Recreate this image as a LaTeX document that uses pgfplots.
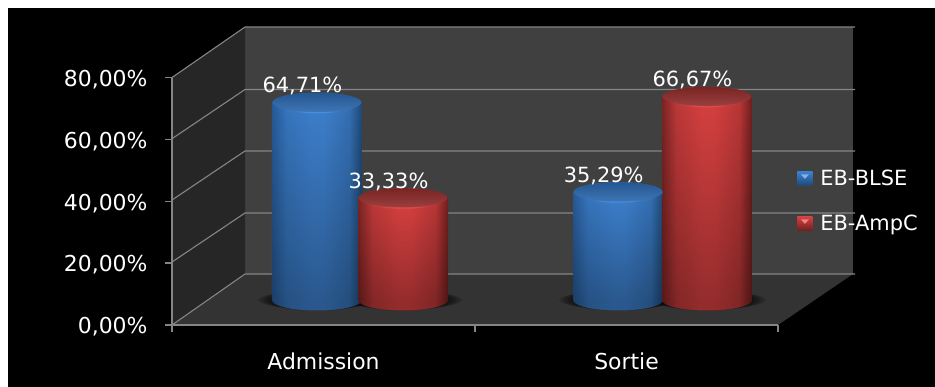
\documentclass[border=0pt]{standalone}
\usepackage{fontspec}
\setmainfont{DejaVu Sans}
\usepackage{pgfplots}
\pgfplotsset{compat=1.18}
\usetikzlibrary{fadings}

% Colours of the chart frame
\definecolor{wallback}{HTML}{404040}
\definecolor{wallside}{HTML}{262626}
\definecolor{floorcol}{HTML}{333333}
\definecolor{gridcol}{HTML}{858585}
% Colours of the cylinders
\definecolor{blueedgeL}{HTML}{275A96}
\definecolor{bluemid}{HTML}{3D7FCC}
\definecolor{blueedgeR}{HTML}{1E4874}
\definecolor{bluecap}{HTML}{2A66AC}
\definecolor{bluerim}{HTML}{4A92E4}
\definecolor{rededgeL}{HTML}{7C2424}
\definecolor{redmid}{HTML}{D64040}
\definecolor{rededgeR}{HTML}{6E1E1E}
\definecolor{redcap}{HTML}{8E2A2A}
\definecolor{redrim}{HTML}{E25050}

% Side surface of a cylinder: dark rims, a broad lit centre
\pgfdeclarehorizontalshading{cylblue}{100bp}{
  color(0bp)=(blueedgeL); color(25bp)=(blueedgeL);
  color(33bp)=(bluemid!72!blueedgeL); color(47bp)=(bluemid); color(54bp)=(bluemid);
  color(68bp)=(bluemid!72!blueedgeR); color(75bp)=(blueedgeR); color(100bp)=(blueedgeR)}
\pgfdeclarehorizontalshading{cylred}{100bp}{
  color(0bp)=(rededgeL); color(25bp)=(rededgeL);
  color(33bp)=(redmid!72!rededgeL); color(47bp)=(redmid); color(54bp)=(redmid);
  color(68bp)=(redmid!72!rededgeR); color(75bp)=(rededgeR); color(100bp)=(rededgeR)}

% Cylinder end caps and floor shadow, drawn as plot marks at the data points
\pgfdeclareplotmark{capblue}{%
  \shade[draw=none,shading=cylblue] (0,0) ellipse [x radius=45bp,y radius=10.5bp];
  \shade[draw=none,top color=bluecap!85!black,bottom color=bluecap!90!white] (0,1bp) ellipse [x radius=44.5bp,y radius=9.5bp];
  \fill[draw=none,bluerim,opacity=.8] (-22bp,-8.2bp) .. controls (-8bp,-10.6bp) and (8bp,-10.6bp) .. (22bp,-8.2bp) .. controls (8bp,-9.2bp) and (-8bp,-9.2bp) .. cycle;
}
\pgfdeclareplotmark{capred}{%
  \shade[draw=none,shading=cylred] (0,0) ellipse [x radius=45bp,y radius=10.5bp];
  \shade[draw=none,top color=redcap!85!black,bottom color=redcap!90!white] (0,1bp) ellipse [x radius=44.5bp,y radius=9.5bp];
  \fill[draw=none,redrim,opacity=.8] (-22bp,-8.2bp) .. controls (-8bp,-10.6bp) and (8bp,-10.6bp) .. (22bp,-8.2bp) .. controls (8bp,-9.2bp) and (-8bp,-9.2bp) .. cycle;
}
\pgfdeclareplotmark{baseblue}{%
  \shade[draw=none,shading=cylblue]
    (-45bp,0) arc [start angle=180,end angle=360,x radius=45bp,y radius=10.5bp] -- cycle;
  \fill[draw=none,black,opacity=.3]
    (-45bp,0) arc [start angle=180,end angle=360,x radius=45bp,y radius=10.5bp] -- cycle;
}
\pgfdeclareplotmark{basered}{%
  \shade[draw=none,shading=cylred]
    (-45bp,0) arc [start angle=180,end angle=360,x radius=45bp,y radius=10.5bp] -- cycle;
  \fill[draw=none,black,opacity=.3]
    (-45bp,0) arc [start angle=180,end angle=360,x radius=45bp,y radius=10.5bp] -- cycle;
}
\pgfdeclareplotmark{floorshadow}{%
  \foreach \r/\h in {59/9,56/9.5,53/10,50/10.5,47/11}{%
    \fill[draw=none,black,opacity=.14] (0,0bp) ellipse [x radius=\r bp,y radius=\h bp];
  }%
}

\pgfplotsset{
  fullframe/.style={
    at={(0,0)},anchor=south west,scale only axis,
    width=935bp,height=387bp,
    xmin=0,xmax=935,ymin=0,ymax=387,y dir=reverse,
    axis lines=none,clip=true,
  },
  wall/.style={draw=none,fill=#1,forget plot},
  gridline/.style={draw=gridcol,line width=1.1bp,forget plot},
  pct/.style={
    /pgf/number format/assume math mode=true,
    /pgf/number format/use comma,
    /pgf/number format/fixed,
    /pgf/number format/fixed zerofill,
    /pgf/number format/precision=2,
  },
  valuelabel/.style={
    point meta=y,
    nodes near coords={\pgfmathprintnumber{\pgfplotspointmeta}\%},
    every node near coord/.style={anchor=center,xshift=-14.5bp,yshift=17bp,text=white,font=\fontsize{21}{25}\selectfont},
  },
  cylinderplane/.style={
    at={(210bp,87bp)},anchor=south west,scale only axis,
    width=606bp,height=243.2bp,
    xmin=0,xmax=2,ymin=0,ymax=80,
    hide axis,clip=false,
  },
}

% One cylinder at category position #2 with value #3, in colour family #1
\newcommand{\cylbody}[3]{%
  \addplot[ybar,bar width=90bp,draw=none,shade,shading=cyl#1,forget plot]
    coordinates {(#2,#3)};
  \addplot[ybar,bar width=90bp,draw=none,fill=black,fill opacity=.3,path fading=north,forget plot]
    coordinates {(#2,#3)};
  \addplot[only marks,mark=base#1,forget plot] coordinates {(#2,0)};
  \addplot[only marks,mark=cap#1,forget plot,valuelabel] coordinates {(#2,#3)};
}

\begin{document}
\begin{tikzpicture}
% Page, black panel, walls, floor and the receding grid lines (in pixel units)
\begin{axis}[fullframe]
  \addplot[wall=white] coordinates {(0,0) (935,0) (935,387) (0,387)} -- cycle;
  \addplot[wall=black] coordinates {(8,8) (935,8) (935,387) (8,387)} -- cycle;
  \addplot[wall=wallback] coordinates {(245,27) (853,27) (853,274) (245,274)} -- cycle;
  \addplot[wall=wallside] coordinates {(172,77.5) (245,27) (245,274) (172,325)} -- cycle;
  \addplot[wall=floorcol] coordinates {(172,325) (245,274) (853,274) (778,325)} -- cycle;
  \addplot[gridline] coordinates {(172,77.5) (245,27) (855,27)};
  \addplot[gridline] coordinates {(172,138.7) (245,89.5) (855,89.5)};
  \addplot[gridline] coordinates {(172,200) (245,151) (855,151)};
  \addplot[gridline] coordinates {(172,262) (245,213) (855,213)};
  \addplot[gridline] coordinates {(172,325) (245,274) (855,274)};
\end{axis}

% Value axis on the front plane of the box
\begin{axis}[
  at={(172bp,62bp)},anchor=south west,scale only axis,
  width=606bp,height=247.5bp,
  xmin=0,xmax=2,ymin=0,ymax=80,
  axis x line=bottom,axis y line=left,
  axis line style={-,draw=gridcol,line width=1.2bp},
  tick style={draw=gridcol,line width=1.4bp},
  tick align=outside,major tick length=7bp,
  xtick={0,1,2},xticklabels={},
  extra x ticks={0.5,1.5},
  extra x tick labels={Admission,Sortie},
  extra x tick style={major tick length=0pt,
    xticklabel style={yshift=-24bp}},
  ytick={0,20,40,60,80},
  yticklabel={\pgfmathprintnumber{\tick}\%},
  pct,
  ticklabel style={text=white,font=\fontsize{22}{26}\selectfont},
  yticklabel style={xshift=-14bp,yshift=-2bp},
]
  \addplot[draw=none,forget plot] coordinates {(0,0) (2,80)};
\end{axis}

% Soft shadows on the floor, under the cylinders
\begin{axis}[cylinderplane]
  \addplot[only marks,mark=floorshadow,forget plot] coordinates {(0.353,0) (0.637,0) (1.347,0) (1.640,0)};
\end{axis}

% Cylinders standing on the floor: one series per bacterial group
\begin{axis}[
  cylinderplane,
  legend style={at={(axis description cs:0.969,0.542)},anchor=north west,
    draw=none,fill=none,text=white,font=\fontsize{21}{25}\selectfont,
    row sep=24bp,inner sep=0pt},
  legend cell align=left,
  pct,
]
  % Admission: EB-BLSE 64,71 and EB-AmpC 33,33
  \cylbody{blue}{0.353}{64.71}
  \cylbody{red}{0.637}{33.33}
  % Sortie: EB-BLSE 35,29 and EB-AmpC 66,67
  \cylbody{blue}{1.347}{35.29}
  \cylbody{red}{1.640}{66.67}
  % Legend keys: small bevelled squares
  \addlegendimage{legend image code/.code={
    \shade[draw=none,top color=bluemid,bottom color=blueedgeR] (0bp,-7bp) rectangle (15bp,7bp);
    \fill[draw=none,bluerim!70!white] (3.5bp,4.5bp) -- (11.5bp,4.5bp) -- (7.5bp,0bp) -- cycle;
  }}
  \addlegendentry{\hspace{6bp}EB-BLSE}
  \addlegendimage{legend image code/.code={
    \shade[draw=none,top color=redmid,bottom color=rededgeR] (0bp,-7bp) rectangle (15bp,7bp);
    \fill[draw=none,redrim!70!white] (3.5bp,4.5bp) -- (11.5bp,4.5bp) -- (7.5bp,0bp) -- cycle;
  }}
  \addlegendentry{\hspace{6bp}EB-AmpC}
\end{axis}
\end{tikzpicture}
\end{document}
